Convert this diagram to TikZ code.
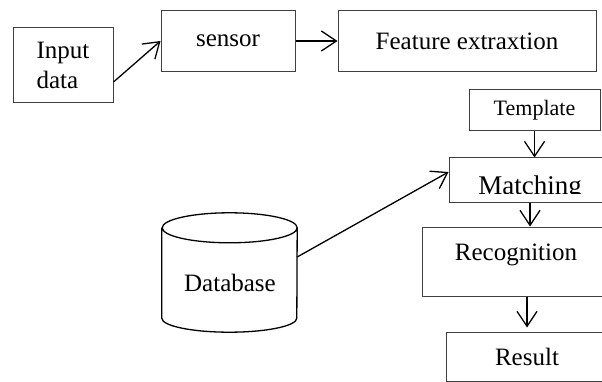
\documentclass[tikz,border=0pt]{standalone}
\usepackage{fontspec}
\setmainfont{Liberation Serif}
\usetikzlibrary{arrows.meta}

\tikzset{
  lbl/.style={font=\fontsize{25}{30}\selectfont, inner sep=0pt},
  box/.style={lbl, draw=black!75, line width=1pt, rectangle},
  link/.style={-{Straight Barb[length=15pt,width=20pt]}, line width=1.3pt},
}

\begin{document}
\begin{tikzpicture}[x=1pt,y=-1pt]
  \useasboundingbox (0,0) rectangle (602,382);
  % top row
  \node[box, minimum width=100pt, minimum height=75pt, align=left] (input) at (63,65.5) {Input\\data};
  \node[box, minimum width=134pt, minimum height=61pt] (sensor) at (228,41) {sensor};
  \node[box, minimum width=258pt, minimum height=61pt] (feature) at (467,41) {Feature extraxtion};
  % right column
  \node[box, minimum width=131pt, minimum height=41pt, font=\fontsize{22}{26}\selectfont] (template) at (534.5,110.5) {Template};
  \node[box, minimum width=162pt, minimum height=45pt] (matching) at (530,180.5) {};
  \begin{scope}
    \clip (449,158) rectangle (611,194);
    \node[lbl, font=\fontsize{27}{32}\selectfont, anchor=base] (matchtext) at (530,194) {Matching};
  \end{scope}
  \node[box, minimum width=188pt, minimum height=69pt] (recog) at (516,261.5) {};
  \node[lbl] (recogtext) at (516,255) {Recognition};
  \node[box, minimum width=162pt, minimum height=49pt] (result) at (527,356.5) {Result};
  % database
  \node[lbl, minimum width=135pt, minimum height=90pt] (db) at (229.5,273) {};
  \node[lbl] (dbtext) at (230,283) {Database};
  \draw[line width=1.3pt] (db.north west) -- (db.south west)
    arc[start angle=180, end angle=360, x radius=67.5pt, y radius=14pt]
    -- (db.north east)
    arc[start angle=0, end angle=360, x radius=67.5pt, y radius=15pt];

  \draw[link] ([yshift=-16.5pt]input.east) -- (sensor.west);
  \draw[link] (sensor.east) -- (feature.west);
  \draw[link] (template.south) -- (template.south |- matching.north);
  \draw[link] (matching.south) -- (matching.south |- recog.north);
  \draw[link, shorten >=4pt] ([xshift=11pt]recog.south) -- ([xshift=11pt]recog.south |- result.north);
  \draw[link] ([yshift=16pt]db.east) -- ([yshift=8.5pt]matching.west);
\end{tikzpicture}
\end{document}
